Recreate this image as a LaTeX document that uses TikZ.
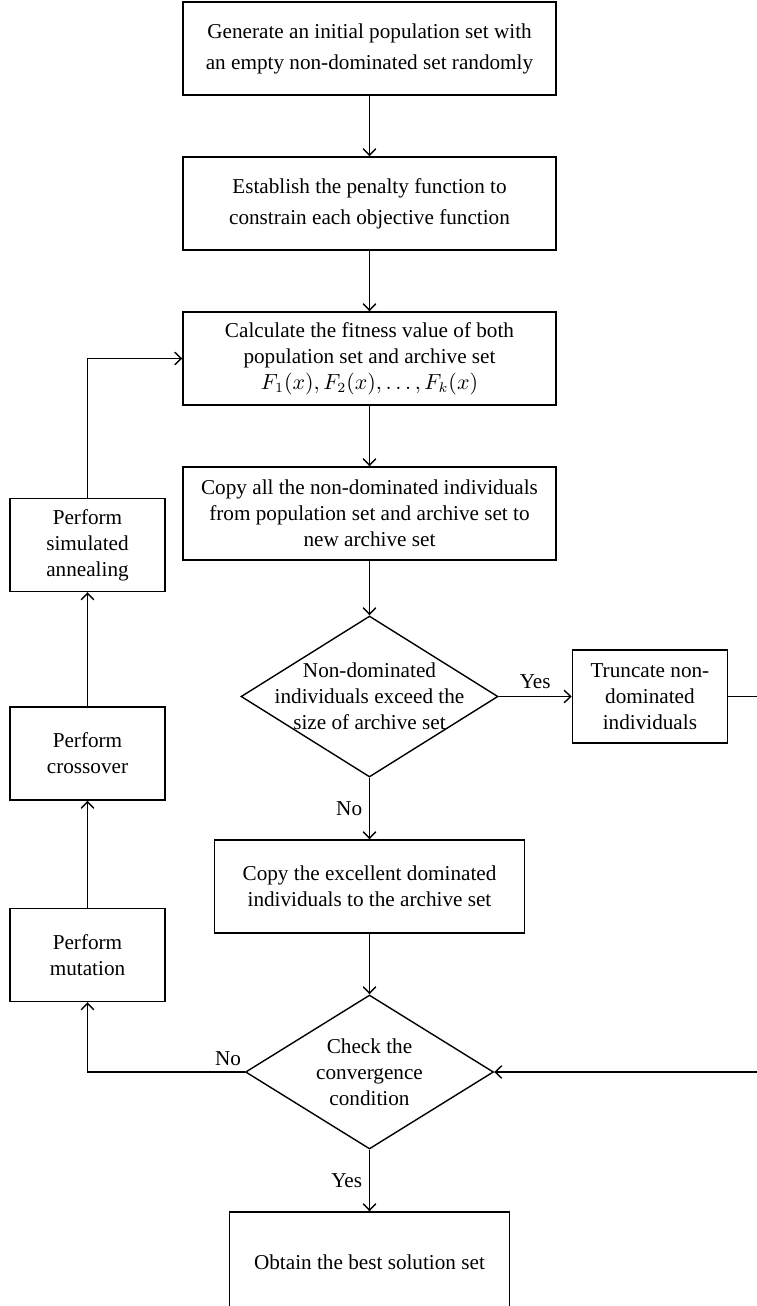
\documentclass[tikz,border=0pt]{standalone}
\usepackage{fontspec}
\setmainfont{Liberation Serif}
\usepackage{tikz}
\usetikzlibrary{calc,positioning,arrows.meta,shapes.geometric}
\tikzset{
  line/.style={-{Straight Barb[length=3.3pt,width=6.3pt]}, line width=0.7pt},
  box/.style={draw, line width=0.7pt, align=center, inner sep=3pt,
    font=\fontsize{10.6}{13}\selectfont},
  widebox/.style={box, minimum width=186.5pt, minimum height=46.5pt,
    font=\fontsize{10.6}{15.5}\selectfont},
  midbox/.style={box, minimum width=186.5pt, minimum height=46.5pt},
  sidebox/.style={box, minimum width=77.5pt, minimum height=46.5pt},
  decision/.style={draw, diamond, line width=0.7pt, align=center,
    inner xsep=-20pt, inner ysep=-14pt, font=\fontsize{10.6}{13}\selectfont},
  lbl/.style={font=\fontsize{10.6}{13}\selectfont}
}
\begin{document}
\begin{tikzpicture}[node distance=30.3pt]
  \useasboundingbox (0,0) rectangle (378pt,-653pt);
  % main column
  \node[widebox] (gen) at (184.75pt,-24.25pt) {Generate an initial population set with\\an empty non-dominated set randomly};
  \node[widebox, below=of gen] (est) {Establish the penalty function to\\constrain each objective function};
  \node[midbox, below=of est] (calc) {Calculate the fitness value of both\\population set and archive set\\$F_1(x), F_2(x), \ldots, F_k(x)$};
  \node[midbox, below=of calc] (copyall) {Copy all the non-dominated individuals\\from population set and archive set to\\new archive set};
  \node[decision, minimum width=128.5pt, minimum height=80.5pt, below=27.3pt of copyall] (exceed) {Non-dominated\\individuals exceed the\\size of archive set};
  \node[sidebox, right=36.5pt of exceed] (trunc) {Truncate non-\\dominated\\individuals};
  \node[box, minimum width=155pt, minimum height=46.5pt, below=30.8pt of exceed] (copyexc) {Copy the excellent dominated\\individuals to the archive set};
  \node[decision, minimum width=124pt, minimum height=77pt, below=of copyexc] (conv) {Check the\\convergence\\condition};
  \node[box, minimum width=140pt, minimum height=50pt, below=30.8pt of conv] (best) {Obtain the best solution set};
  % left column
  \node[sidebox] (anneal) at (43.75pt,-272.5pt) {Perform\\simulated\\annealing};
  \node[sidebox] (cross) at (43.75pt,-376.75pt) {Perform\\crossover};
  \node[sidebox] (mut) at (43.75pt,-477.5pt) {Perform\\mutation};
  \coordinate (rt) at (392pt,0);

  \draw[line] (gen) -- (est);
  \draw[line] (est) -- (calc);
  \draw[line] (calc) -- (copyall);
  \draw[line] (copyall) -- (exceed);
  \draw[line] (exceed) -- node[lbl, above] {Yes} (trunc);
  \draw[line] (exceed) -- node[lbl, left] {No} (copyexc);
  \draw[line] (copyexc) -- (conv);
  \draw[line] (conv) -- node[lbl, left] {Yes} (best);
  \draw[line] (trunc.east) -- (trunc.east -| rt) |- (conv.east);
  \draw[line] (conv.west) -- node[lbl, pos=0, above left, inner xsep=1.5pt, inner ysep=3pt] {No} (conv.west -| mut) -- (mut.south);
  \draw[line] (mut) -- (cross);
  \draw[line] (cross) -- (anneal);
  \draw[line] (anneal.north) |- (calc.west);
\end{tikzpicture}
\end{document}
